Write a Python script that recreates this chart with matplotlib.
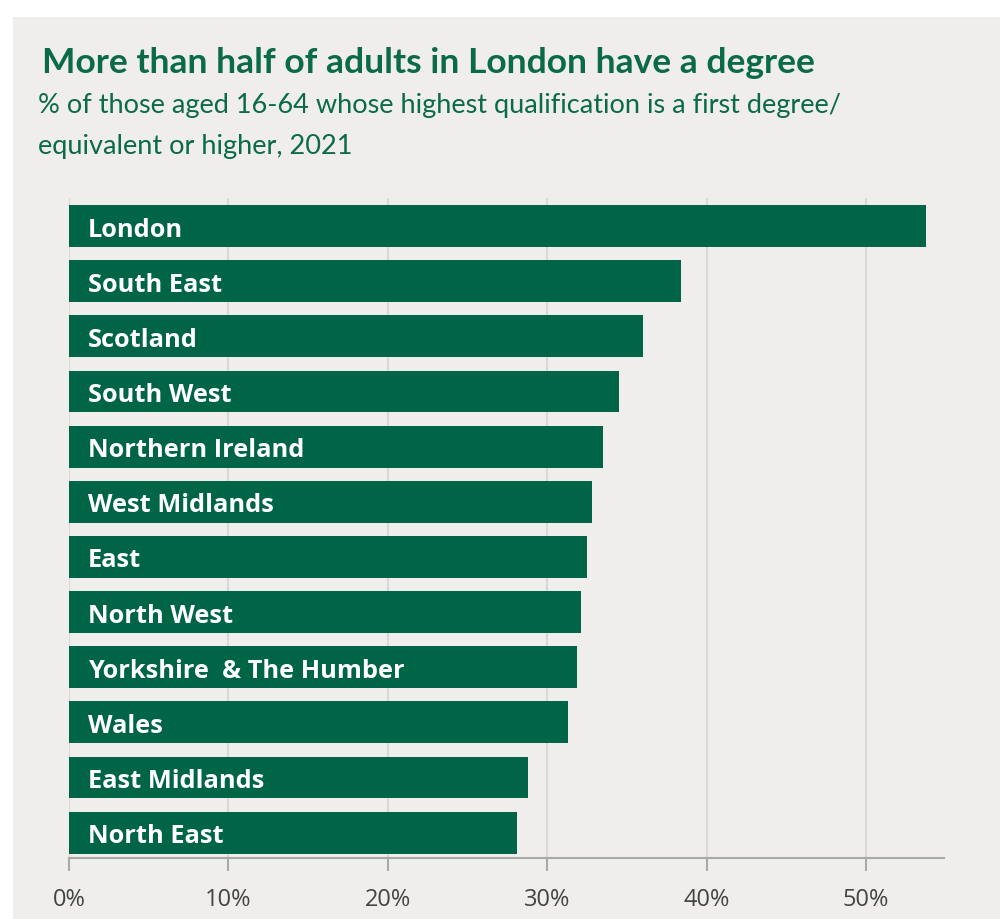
import matplotlib
matplotlib.use("Agg")
import matplotlib.pyplot as plt
from matplotlib.patches import Rectangle

regions = ["London", "South East", "Scotland", "South West", "Northern Ireland",
           "West Midlands", "East", "North West", "Yorkshire  & The Humber",
           "Wales", "East Midlands", "North East"]
degree_pct = [53.8, 38.4, 36.0, 34.5, 33.5, 32.8, 32.5, 32.1, 31.9, 31.3, 28.8, 28.1]
x_ticks = [0, 10, 20, 30, 40, 50]
x_tick_labels = ["0%", "10%", "20%", "30%", "40%", "50%"]

title = "More than half of adults in London have a degree"
subtitle = ("% of those aged 16-64 whose highest qualification is a first degree/\n"
            "equivalent or higher, 2021")

GREEN = "#006446"
TEXT_GREEN = "#0b6a47"
PANEL = "#efeeec"

W, H = 1000, 920
fig = plt.figure(figsize=(W / 100, H / 100), dpi=100, facecolor="white")
fig.add_artist(Rectangle((13 / W, 0), 1 - 13 / W, (H - 18) / H,
                         transform=fig.transFigure, facecolor=PANEL,
                         edgecolor="none", zorder=-10))

left, right, top, bottom = 69, 944, 199, 859
ax = fig.add_axes([left / W, 1 - bottom / H, (right - left) / W, (bottom - top) / H])
ax.set_facecolor(PANEL)
ax.patch.set_alpha(0)

n = len(regions)
ypos = list(range(n - 1, -1, -1))
ax.barh(ypos, degree_pct, height=0.76, color=GREEN, zorder=3)

for y, name in zip(ypos, regions):
    ax.annotate(name, xy=(0, y), xytext=(13.5, 0), textcoords="offset points",
                ha="left", va="center_baseline", color="white", fontsize=18.3,
                fontweight="bold", family="Open Sans", zorder=4)

ax.set_xlim(0, 54.9)
ax.set_ylim(-0.46, n - 1 + 0.51)
ax.set_xticks(x_ticks)
ax.set_xticklabels(x_tick_labels, family="Open Sans", fontsize=17, color="#444444")
ax.set_yticks([])
ax.grid(axis="x", color="#d8d8d8", linewidth=1.5, zorder=0)
for s in ["top", "right", "left"]:
    ax.spines[s].set_visible(False)
ax.spines["bottom"].set_color("#a9a9a9")
ax.spines["bottom"].set_linewidth(1.5)
ax.tick_params(axis="x", length=9, width=1.5, color="#a9a9a9", pad=12)

fig.text(42 / W, 1 - 63 / H, title, ha="left", va="center", color=TEXT_GREEN,
         fontsize=25.5, fontweight="bold", family="Lato")
fig.text(38 / W, 1 - 126 / H, subtitle, ha="left", va="center", color=TEXT_GREEN,
         fontsize=19.5, family="Lato", linespacing=1.78)

fig.savefig("out.png", dpi=100, facecolor="white")
